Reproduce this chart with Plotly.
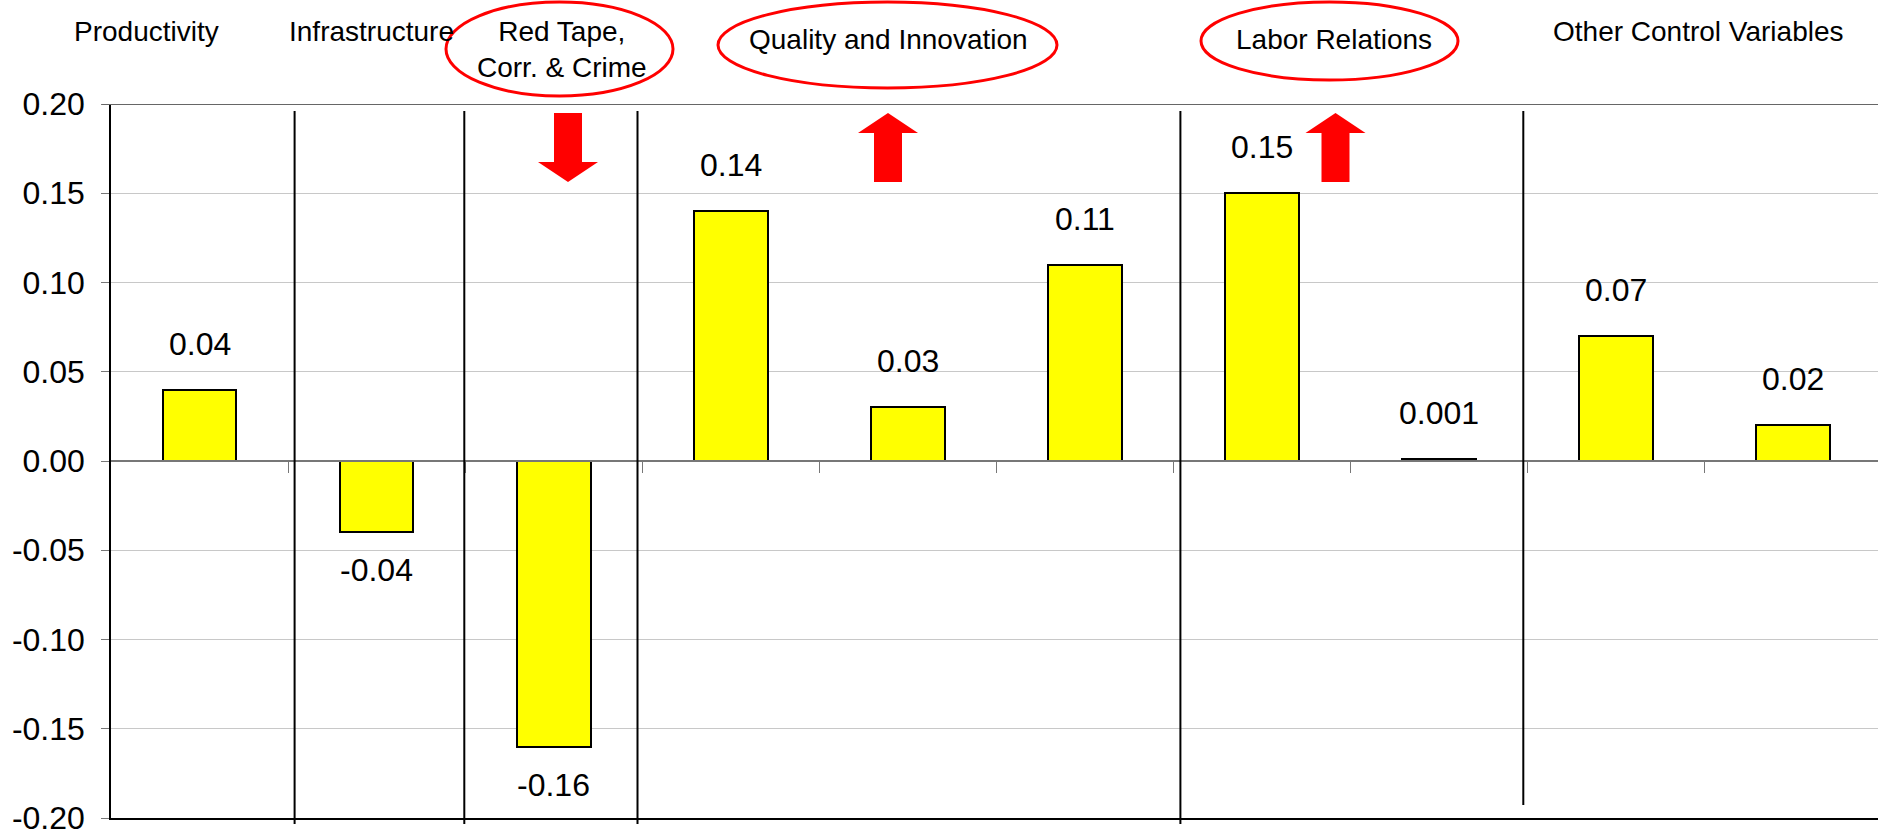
import plotly.graph_objects as go

# ---- data -------------------------------------------------------------
categories = ["Productivity", "Infrastructure", "Red Tape, Corr. & Crime",
              "Quality and Innovation 1", "Quality and Innovation 2",
              "Quality and Innovation 3", "Labor Relations 1",
              "Labor Relations 2", "Other Control Variables 1",
              "Other Control Variables 2"]
values = [0.04, -0.04, -0.16, 0.14, 0.03, 0.11, 0.15, 0.001, 0.07, 0.02]
y_ticks = [-0.20, -0.15, -0.10, -0.05, 0.00, 0.05, 0.10, 0.15, 0.20]

# group headings: (text, centre in category units, paper-y, circled)
groups = [
    ("Productivity", -0.30, 1.102, False),
    ("Infrastructure", 0.97, 1.102, False),
    ("Red Tape,<br>Corr. & Crime", 2.05, 1.077, True),
    ("Quality and Innovation", 3.89, 1.091, True),
    ("Labor Relations", 6.41, 1.091, True),
    ("Other Control Variables", 8.47, 1.102, False),
]

# ---- geometry ---------------------------------------------------------
W, H = 1878, 831
ML, MT, MB = 111, 104, 13
PLOT_H = H - MT - MB
X_RANGE = [-0.5, 9.483]
CAT_PX = (W - ML) / (X_RANGE[1] - X_RANGE[0])


def gx(px):
    """page pixel x -> category units"""
    return X_RANGE[0] + (px - ML) / CAT_PX


def gy(py):
    """page pixel y -> paper fraction"""
    return (H - MB - py) / PLOT_H


FONT = "Liberation Sans, Arial, Helvetica, sans-serif"
n = len(values)
xs = list(range(n))

fig = go.Figure()
fig.add_trace(go.Bar(
    x=xs, y=values, width=0.418,
    marker=dict(color="#FFFF00", line=dict(color="black", width=2)),
    hoverinfo="skip", showlegend=False,
))
# carrier trace for the category axis drawn through zero
fig.add_trace(go.Scatter(x=[0], y=[0], xaxis="x2", mode="markers",
                         marker=dict(opacity=0), hoverinfo="skip",
                         showlegend=False))

# value labels
for x, v in zip(xs, values):
    fig.add_annotation(x=x, y=v, xref="x", yref="y", text=f"{v:g}",
                       showarrow=False, yanchor="middle",
                       yshift=46 if v >= 0 else -38,
                       font=dict(family=FONT, size=32, color="black"))

# group headings
for text, cx, py, circled in groups:
    fig.add_annotation(x=cx, y=py, xref="x", yref="paper", text=text,
                       showarrow=False, xanchor="center", yanchor="middle",
                       font=dict(family=FONT, size=28, color="black"))

# red ellipses round the highlighted headings (page pixels)
ellipses = [(446, 673, 2, 96), (718, 1057, 2, 88), (1201, 1458, 2, 80)]
for x0, x1, y0, y1 in ellipses:
    fig.add_shape(type="circle", xref="x", yref="paper",
                  x0=gx(x0), x1=gx(x1), y0=gy(y1), y1=gy(y0),
                  line=dict(color="#FF0000", width=3), layer="above")

# group separators (page pixels: x, top, bottom)
separators = [(294.6, 111, 824), (464.3, 111, 824), (637.5, 111, 824),
              (1180.4, 111, 824), (1523.3, 111, 805)]
for px, top, bot in separators:
    fig.add_shape(type="line", xref="x", yref="paper",
                  x0=gx(px), x1=gx(px), y0=gy(top), y1=gy(bot),
                  line=dict(color="black", width=2), layer="above")

# top border of the plot
fig.add_shape(type="line", xref="paper", yref="y", x0=-0.005, x1=1,
              y0=0.2, y1=0.2, line=dict(color="#666666", width=2),
              layer="above")


# block arrows
def arrow(cx_px, up):
    top, bot = 113, 182
    sh, hh = 14, 30
    if up:
        neck = 133
        pts = [(cx_px, top), (cx_px + hh, neck), (cx_px + sh, neck),
               (cx_px + sh, bot), (cx_px - sh, bot), (cx_px - sh, neck),
               (cx_px - hh, neck)]
    else:
        neck = 162
        pts = [(cx_px, bot), (cx_px + hh, neck), (cx_px + sh, neck),
               (cx_px + sh, top), (cx_px - sh, top), (cx_px - sh, neck),
               (cx_px - hh, neck)]
    path = "M " + " L ".join(f"{gx(a):.5f},{gy(b):.5f}" for a, b in pts) + " Z"
    fig.add_shape(type="path", xref="x", yref="paper", path=path,
                  fillcolor="#FF0000", line=dict(width=0), layer="above")


arrow(568, up=False)
arrow(888, up=True)
arrow(1335.5, up=True)

fig.update_layout(
    width=W, height=H,
    margin=dict(l=ML, r=0, t=MT, b=MB, pad=0, autoexpand=False),
    paper_bgcolor="white", plot_bgcolor="white",
    showlegend=False, bargap=0,
    xaxis=dict(range=X_RANGE, showgrid=False, zeroline=False,
               showticklabels=False, ticks="", showline=True,
               linecolor="black", linewidth=2, fixedrange=True,
               automargin=False),
    xaxis2=dict(range=X_RANGE, overlaying="x", anchor="free", position=0.5,
                showgrid=False, zeroline=False, showticklabels=False,
                showline=True, linecolor="#777777", linewidth=1.5,
                ticks="outside", ticklen=11, tickwidth=1,
                tickcolor="#777777", automargin=False,
                tickvals=[i + 0.5 for i in range(n - 1)]),
    yaxis=dict(range=[-0.2, 0.2], tickvals=y_ticks,
               ticktext=[f"{t:.2f}" for t in y_ticks],
               ticklabeloverflow="allow", automargin=False,
               showgrid=True, gridcolor="#C8C8C8", gridwidth=1,
               zeroline=False, showline=True, linecolor="black",
               linewidth=1.5, ticks="outside", ticklen=8,
               tickcolor="#777777", ticklabelstandoff=10,
               tickfont=dict(family=FONT, size=32, color="black"),
               fixedrange=True),
)

fig.write_html("out.html")
